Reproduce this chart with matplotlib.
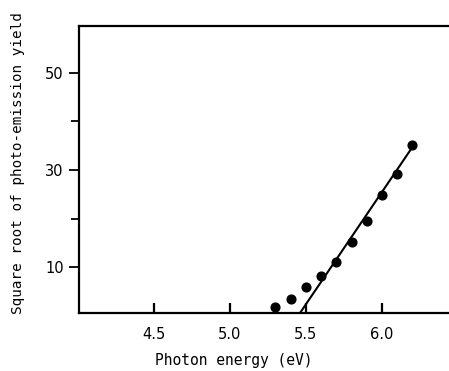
import matplotlib
matplotlib.use('Agg')
import matplotlib.pyplot as plt
from matplotlib.ticker import FixedLocator

energy = [5.3, 5.4, 5.5, 5.6, 5.7, 5.8, 5.9, 6.0, 6.1, 6.2]
sqrt_yield = [1.7, 3.4, 5.9, 8.2, 11.1, 15.1, 19.5, 24.8, 29.1, 35.2]

# Fitted straight line (end points)
fit_x = [5.45, 6.21]
fit_y = [0.0, 35.2]

x_ticks = [4.5, 5.0, 5.5, 6.0]
x_labels = ['4.5', '5.0', '5.5', '6.0']
y_major = [10, 30, 50]
y_minor = [20, 40]

plt.rcParams['font.family'] = 'DejaVu Sans'

fig = plt.figure(figsize=(4.49, 3.71), dpi=100)
ax = fig.add_axes([0.176, 0.156, 0.824, 0.773])

ax.plot(energy, sqrt_yield, 'o', color='black', markersize=6.3)
ax.plot(fit_x, fit_y, '-', color='black', lw=1.5)

ax.set_xlim(4.01, 6.44)
ax.set_ylim(0.5, 59.6)

ax.spines['right'].set_visible(False)
for s in ['top', 'left', 'bottom']:
    ax.spines[s].set_linewidth(1.6)

ax.set_xticks(x_ticks)
ax.set_xticklabels(x_labels)
ax.tick_params(axis='x', direction='in', length=7, width=1.6, labelsize=10.5, pad=10)

ax.yaxis.set_major_locator(FixedLocator(y_major))
ax.yaxis.set_minor_locator(FixedLocator(y_minor))
ax.tick_params(axis='y', which='major', direction='out', length=7, width=1.3, labelsize=10.5, pad=4)
ax.tick_params(axis='y', which='minor', direction='out', length=6, width=1.3)

mono = 'DejaVu Sans Mono'
ax.set_xlabel('Photon energy (eV)', fontsize=10.5, family=mono)
ax.set_ylabel('Square root of photo-emission yield', fontsize=10.3, family=mono)
ax.xaxis.set_label_coords(0.419, -0.138)
ax.yaxis.set_label_coords(-0.146, 0.524)

fig.savefig('out.png', dpi=100)
